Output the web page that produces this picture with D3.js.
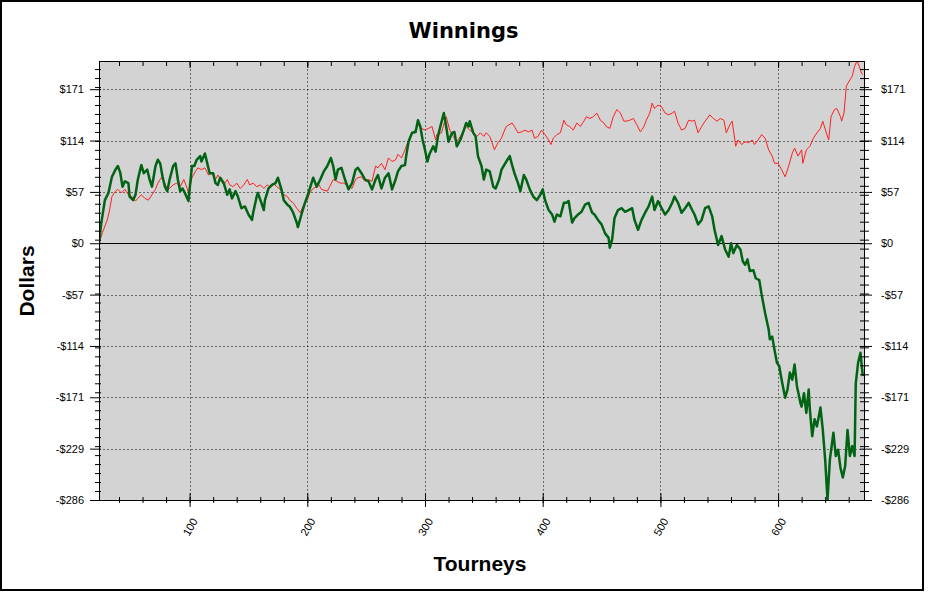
<!DOCTYPE html>
<html><head><meta charset="utf-8">
<script src="https://cdn.jsdelivr.net/npm/d3@7"></script>
<style>
html,body{margin:0;padding:0;background:#fff;}
svg{display:block;font-family:"Liberation Sans",Arial,sans-serif;}
</style></head><body>
<svg id="chart" width="928" height="592"></svg>
<script>
// Cumulative winnings, red series: [tourney, dollars]
const redData = [[23,0],[26,12],[30,26],[32,37],[34,52],[37,58],[39,60],[42,56],[45,60],[48,54],[51,52],[54,47],[56,50],[59,54],[62,50],[65,48],[68,54],[71,60],[73,67],[75,71],[76,73],[79,67],[81,60],[83,61],[86,65],[89,67],[92,63],[95,71],[98,61],[99,56],[102,73],[105,80],[107,84],[110,82],[113,84],[116,76],[119,78],[122,71],[124,76],[127,69],[129,65],[132,71],[134,65],[137,63],[140,67],[143,61],[146,65],[149,71],[151,65],[154,67],[157,63],[160,65],[163,61],[166,65],[168,63],[171,67],[174,63],[177,60],[180,54],[183,52],[185,48],[188,45],[191,39],[194,34],[197,43],[200,48],[202,56],[205,61],[208,63],[209,67],[212,60],[217,58],[219,63],[222,71],[225,69],[228,67],[231,67],[233,65],[238,61],[241,71],[243,73],[246,74],[249,69],[252,71],[255,69],[258,86],[260,84],[263,89],[266,82],[269,95],[272,91],[275,93],[277,99],[280,95],[283,104],[286,115],[289,123],[292,126],[294,132],[297,128],[300,126],[303,128],[306,130],[309,115],[310,121],[314,123],[317,137],[318,141],[321,126],[324,119],[327,113],[330,119],[333,126],[335,130],[338,126],[341,123],[344,119],[347,123],[350,119],[352,123],[355,119],[358,108],[359,104],[362,112],[365,117],[367,124],[369,130],[374,134],[376,130],[379,123],[382,124],[385,126],[388,124],[391,126],[393,117],[396,119],[399,126],[402,121],[405,115],[407,110],[409,117],[412,121],[415,123],[418,137],[420,132],[423,130],[426,126],[429,134],[432,130],[435,136],[437,141],[440,139],[443,141],[446,145],[449,137],[452,134],[454,130],[457,128],[460,141],[463,149],[466,145],[469,136],[471,136],[474,137],[477,139],[480,132],[483,124],[486,130],[488,137],[491,145],[493,156],[495,150],[498,154],[501,152],[504,145],[507,143],[510,145],[512,147],[515,134],[518,126],[521,128],[524,137],[527,136],[529,137],[532,123],[535,130],[538,136],[542,143],[545,139],[548,136],[551,139],[554,137],[556,123],[559,132],[561,136],[564,108],[566,115],[569,110],[572,113],[575,112],[578,115],[580,110],[583,115],[586,121],[589,117],[592,104],[595,97],[597,89],[600,89],[603,82],[606,74],[609,86],[612,100],[614,106],[617,97],[620,104],[621,89],[624,104],[627,108],[630,117],[633,123],[636,128],[638,136],[641,123],[643,115],[645,141],[648,149],[650,150],[653,141],[654,136],[656,145],[658,175],[661,182],[663,186],[665,197],[667,203],[669,197],[671,189],[672,188]];

// Cumulative winnings, green series: [tourney, dollars]
const greenData = [[23,0],[25,23],[28,48],[31,56],[34,74],[37,82],[39,86],[41,79],[42,71],[43,63],[45,69],[48,67],[49,52],[52,48],[54,54],[56,71],[58,82],[59,87],[61,78],[64,82],[66,71],[68,63],[71,86],[73,93],[75,89],[77,74],[79,63],[81,58],[83,71],[86,86],[88,89],[90,71],[92,58],[94,61],[96,56],[99,47],[100,60],[102,86],[104,86],[106,93],[109,97],[110,91],[113,100],[115,89],[117,78],[120,78],[122,67],[124,65],[126,73],[129,67],[132,54],[134,60],[136,50],[139,58],[141,52],[144,39],[147,41],[150,32],[153,26],[154,34],[157,52],[158,56],[161,45],[163,37],[164,48],[167,61],[170,65],[173,67],[175,73],[178,60],[180,48],[183,43],[185,41],[188,34],[191,23],[192,18],[195,32],[198,45],[201,56],[205,73],[208,63],[211,71],[214,80],[217,86],[218,89],[220,95],[222,86],[224,71],[226,82],[229,84],[232,71],[235,60],[238,67],[241,82],[243,84],[246,78],[249,71],[252,69],[255,60],[258,71],[260,76],[263,61],[266,73],[269,78],[272,60],[275,71],[277,80],[280,86],[283,87],[284,97],[286,113],[289,123],[292,124],[294,137],[296,130],[298,115],[300,104],[302,91],[304,100],[307,108],[309,102],[311,119],[313,130],[316,145],[318,130],[320,113],[323,123],[325,124],[327,108],[330,115],[333,126],[335,134],[337,130],[338,136],[341,123],[343,119],[345,97],[348,86],[350,71],[352,82],[355,80],[358,63],[360,61],[363,71],[365,82],[370,93],[372,97],[374,87],[376,78],[379,67],[381,58],[384,76],[386,71],[389,60],[392,52],[395,48],[398,54],[400,60],[402,48],[405,37],[408,32],[410,24],[412,32],[415,30],[418,45],[420,45],[422,47],[425,23],[427,28],[430,32],[433,35],[436,43],[439,45],[442,34],[444,32],[447,26],[450,21],[453,11],[456,6],[457,-5],[459,4],[461,28],[464,37],[467,39],[470,35],[473,37],[476,39],[478,26],[481,15],[484,26],[487,34],[490,41],[493,52],[495,37],[498,47],[501,39],[504,32],[507,37],[510,45],[512,52],[515,45],[518,34],[521,39],[524,45],[527,37],[529,32],[532,21],[535,26],[538,39],[541,41],[544,30],[546,15],[549,-2],[552,8],[555,-7],[558,-15],[560,0],[562,-11],[565,-2],[568,-7],[570,-20],[572,-24],[574,-18],[576,-31],[579,-30],[581,-39],[584,-41],[586,-57],[589,-78],[592,-96],[593,-107],[595,-104],[597,-119],[599,-133],[601,-137],[603,-152],[606,-172],[608,-163],[610,-144],[612,-152],[614,-135],[616,-159],[619,-178],[620,-182],[622,-167],[624,-189],[626,-163],[627,-185],[629,-215],[631,-196],[633,-204],[636,-183],[638,-208],[640,-241],[642,-286],[644,-241],[647,-211],[649,-237],[651,-230],[653,-250],[655,-261],[657,-248],[659,-208],[661,-237],[663,-226],[665,-237],[666,-156],[668,-133],[670,-122],[672,-148]];

const xDomain = [23, 673];
const yDomain = [-286, 203];
const yMajorTicks = [-286, -228.8, -171.6, -114.4, -57.2, 0, 57.2, 114.4, 171.6];
const yTickLabels = ["-$286", "-$229", "-$171", "-$114", "-$57", "$0", "$57", "$114", "$171"];
const yMinorTicks = [-286,-276,-266,-256,-246,-236,-226,-216,-206,-196,-186,-176,-166,-156,-146,-136,-126,-116,-106,-96,-86,-76,-66,-56,-46,-36,-26,-16,-6,4,14,24,34,44,54,64,74,84,94,104,114,124,134,144,154,164,174,184,194];
const xMajorTicks = [100, 200, 300, 400, 500, 600];
const xTickLabels = ["100", "200", "300", "400", "500", "600"];
const xMinorTicks = [40,60,80,100,120,140,160,180,200,220,240,260,280,300,320,340,360,380,400,420,440,460,480,500,520,540,560,580,600,620,640,660];

const chartTitle = "Winnings";
const xTitle = "Tourneys";
const yTitle = "Dollars";

const L = 99, R = 864, T = 61, B = 500;
const svg = d3.select("#chart");

// outer frame
svg.append("rect").attr("x", 1).attr("y", 1).attr("width", 922).attr("height", 589)
  .attr("fill", "#fff").attr("stroke", "#000").attr("stroke-width", 2);

const x = d3.scaleLinear().domain(xDomain).range([L, R]);
const y = d3.scaleLinear().domain(yDomain).range([B, T]);

// plot background
svg.append("rect").attr("x", L + 0.5).attr("y", T + 0.5).attr("width", R - L).attr("height", B - T)
  .attr("fill", "#d3d3d3");

// grid
const grid = svg.append("g").attr("stroke", "#000").attr("stroke-width", 1).attr("stroke-dasharray", "1,3");
grid.selectAll("line.v").data(xMajorTicks).join("line")
  .attr("x1", d => Math.round(x(d)) + 0.5).attr("x2", d => Math.round(x(d)) + 0.5)
  .attr("y1", T + 0.5).attr("y2", B + 0.5);
grid.selectAll("line.h").data(yMajorTicks.filter(d => d !== 0 && d !== -286)).join("line")
  .attr("y1", d => Math.round(y(d)) + 0.5).attr("y2", d => Math.round(y(d)) + 0.5)
  .attr("x1", L + 0.5).attr("x2", R + 0.5);

// zero line
svg.append("line").attr("x1", L + 0.5).attr("x2", R + 0.5)
  .attr("y1", Math.round(y(0)) + 0.5).attr("y2", Math.round(y(0)) + 0.5)
  .attr("stroke", "#000").attr("stroke-width", 1);

// clip
svg.append("clipPath").attr("id", "clip").append("rect")
  .attr("x", L + 0.5).attr("y", T + 0.5).attr("width", R - L).attr("height", B - T);

const line = d3.line().x(d => x(d[0])).y(d => y(d[1]));
const plot = svg.append("g").attr("clip-path", "url(#clip)");
plot.append("path").datum(redData).attr("d", line)
  .attr("fill", "none").attr("stroke", "#ff2020").attr("stroke-width", 1).attr("stroke-linejoin", "round");
plot.append("path").datum(greenData).attr("d", line)
  .attr("fill", "none").attr("stroke", "#006414").attr("stroke-width", 2.5).attr("stroke-linejoin", "round");

// plot border
svg.append("rect").attr("x", L + 0.5).attr("y", T + 0.5).attr("width", R - L).attr("height", B - T)
  .attr("fill", "none").attr("stroke", "#000").attr("stroke-width", 1);

const fontSize = "11px";
function styleAxis(g) {
  g.select(".domain").remove();
  g.selectAll("line").attr("stroke", "#000");
  g.selectAll("text").attr("fill", "#000").style("font-size", fontSize).style("font-family", '"Liberation Sans", Arial, sans-serif');
}

// left axis
svg.append("g").attr("transform", `translate(${L},0)`)
  .call(d3.axisLeft(y).tickValues(yMinorTicks).tickSize(4).tickFormat(""))
  .call(styleAxis).call(g => g.selectAll("line").attr("x1", 2));
svg.append("g").attr("transform", `translate(${L},0)`)
  .call(d3.axisLeft(y).tickValues(yMajorTicks).tickSize(9).tickPadding(6).tickFormat((d, i) => yTickLabels[i]))
  .call(styleAxis).call(g => g.selectAll("line").attr("x1", 2));

// right axis
svg.append("g").attr("transform", `translate(${R},0)`)
  .call(d3.axisRight(y).tickValues(yMinorTicks).tickSize(5).tickFormat(""))
  .call(styleAxis).call(g => g.selectAll("line").attr("x1", -4));
svg.append("g").attr("transform", `translate(${R},0)`)
  .call(d3.axisRight(y).tickValues(yMajorTicks).tickSize(8).tickPadding(9).tickFormat((d, i) => yTickLabels[i]))
  .call(styleAxis).call(g => g.selectAll("line").attr("x1", -4));

// top axis (inward ticks)
svg.append("g").attr("transform", `translate(0,${T})`)
  .call(d3.axisTop(x).tickValues(xMinorTicks).tickSize(-5).tickFormat(""))
  .call(styleAxis);
svg.append("g").attr("transform", `translate(0,${T})`)
  .call(d3.axisTop(x).tickValues(xMajorTicks).tickSize(-7).tickFormat(""))
  .call(styleAxis);

// bottom axis
svg.append("g").attr("transform", `translate(0,${B})`)
  .call(d3.axisBottom(x).tickValues(xMinorTicks).tickSize(3).tickFormat(""))
  .call(styleAxis).call(g => g.selectAll("line").attr("y1", -3));
const bx = svg.append("g").attr("transform", `translate(0,${B})`)
  .call(d3.axisBottom(x).tickValues(xMajorTicks).tickSize(7).tickFormat((d, i) => xTickLabels[i]))
  .call(styleAxis).call(g => g.selectAll("line").attr("y1", -7));
bx.selectAll("text").attr("y", null).attr("dy", "0.35em")
  .attr("text-anchor", "middle").attr("transform", "translate(0,27) rotate(-60)");

// titles
svg.append("text").attr("x", 463.5).attr("y", 38).attr("text-anchor", "middle")
  .style("font-family", '"DejaVu Sans", sans-serif').style("font-weight", "bold").style("font-size", "21px")
  .text(chartTitle);
svg.append("text").attr("x", 480).attr("y", 571).attr("text-anchor", "middle")
  .style("font-weight", "bold").style("font-size", "21px").text(xTitle);
svg.append("text").attr("transform", "translate(34,281) rotate(-90)").attr("text-anchor", "middle")
  .style("font-weight", "bold").style("font-size", "21px").text(yTitle);
</script>
</body></html>
